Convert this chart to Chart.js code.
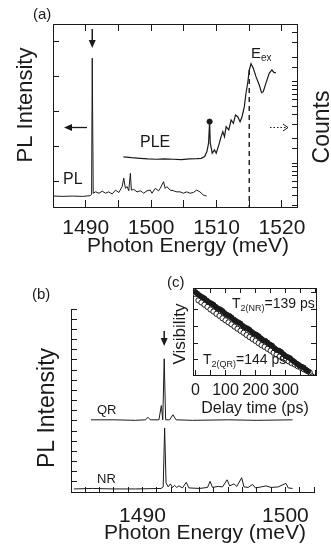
<!DOCTYPE html>
<html>
<head>
<meta charset="utf-8">
<script src="https://cdn.jsdelivr.net/npm/chart.js@4.4.0/dist/chart.umd.min.js"></script>
<style>
  html, body { margin: 0; padding: 0; background: #fff; }
  #wrap { position: relative; width: 331px; height: 547px; overflow: hidden; }
  canvas { position: absolute; }
</style>
</head>
<body>
<div id="wrap">
  <canvas id="chartA" width="331" height="265" style="left:0;top:0"></canvas>
  <canvas id="chartB" width="331" height="282" style="left:0;top:265px"></canvas>
  <canvas id="chartC" width="171" height="145" style="left:160px;top:275px"></canvas>
</div>
<script>
// (a) PL spectrum, left axis (arb. units)
const plEnergy = [1485.1, 1486.5, 1488, 1489.5, 1490.7, 1490.9, 1491.0, 1491.15, 1491.52, 1492.02,
  1492.53, 1493.04, 1493.5, 1494.05, 1494.56, 1495.06, 1495.57, 1495.82, 1496.07, 1496.33,
  1496.58, 1496.83, 1496.98, 1497.34, 1497.85, 1498.35, 1498.6, 1498.86, 1499.37, 1499.87,
  1500.13, 1500.63, 1501.14, 1501.39, 1501.9, 1502.15, 1502.41, 1502.91, 1503.42, 1503.93,
  1504.43, 1504.94, 1505.44, 1505.95, 1506.45, 1506.96, 1507.46, 1507.97, 1508.48];
const plIntensity = [-4.1, -4.2, -4.1, -4.2, -4.0, -3.6, 35.3, -3.3, -2.9, -3.3,
  -2.7, -3.3, -2.9, -3.5, -2.4, -3.1, -1.4, 1.0, -1.9, -1.4,
  -2.6, 2.4, -2.4, -2.2, -2.9, -2.6, -2.9, -3.3, -2.6, -2.4,
  -3.3, -1.9, -2.6, -1.9, 0.0, -1.9, -1.4, -2.4, -2.6, -2.9,
  -2.9, -3.3, -2.9, -3.3, -3.1, -2.4, -2.9, -3.8, -4.1];

// (a) PLE spectrum, right axis (counts, log)
const pleEnergy = [1495.77, 1497, 1498.31, 1499.5, 1500.84, 1502, 1503.37, 1504.6, 1505.9, 1507,
  1507.67, 1508.18, 1508.53, 1508.78, 1508.94, 1509.04, 1509.34, 1509.69, 1509.95, 1510.35,
  1510.7, 1510.96, 1511.21, 1511.47, 1511.87, 1512.23, 1512.58, 1512.89, 1513.24, 1513.6,
  1513.9, 1514.25, 1514.5, 1514.76, 1515.01, 1515.27, 1515.62, 1516.03, 1516.53, 1516.88,
  1517.14, 1517.54, 1518.05, 1518.46, 1518.81, 1519.07];
const pleCounts = [120, 117, 115, 113, 112, 113, 112, 111, 113, 114,
  115, 121, 139, 176, 324, 176, 133, 146, 133, 168,
  212, 244, 212, 281, 256, 339, 309, 391, 372, 323,
  372, 494, 721, 956, 1391, 1662, 1459, 1152, 911, 733,
  754, 955, 1267, 1391, 1289, 1289];
const countsRange = [29.1, 5094];
const exEnergy = [1515.0, 1515.0];
const exCounts = [1391, 29.1];
const dotEnergy = [1508.94];
const dotCounts = [324];
const energyLabelsA = [1490, 1500, 1510, 1520];

// (b) PL of QR and NR (arb. units)
const qrEnergy = [1486.4, 1488, 1489.5, 1490.2, 1490.39, 1490.55, 1491.15, 1491.32, 1491.42, 1491.52,
  1491.62, 1491.9, 1492.13, 1492.35, 1493.5, 1496, 1498, 1500.5];
const qrIntensity = [7.1, 7.1, 7.05, 7.1, 7.35, 7.1, 7.1, 8.5, 7.1, 13.1,
  7.1, 7.1, 7.6, 7.1, 7.05, 7.1, 7.05, 7.1];
const nrEnergy = [1485.2, 1486.5, 1488, 1489.5, 1491.3, 1491.45, 1491.55, 1491.65, 1491.8, 1491.95,
  1492.1, 1492.25, 1492.4, 1492.55, 1492.8, 1493.06, 1493.25, 1494, 1494.55, 1494.73,
  1494.9, 1495.3, 1495.6, 1495.92, 1496.1, 1496.4, 1496.6, 1496.94, 1497.1, 1497.4,
  1497.7, 1497.9, 1498.3, 1498.64, 1499, 1499.5, 1500.03, 1500.2, 1500.5];
const nrIntensity = [0.3, 0.35, 0.3, 0.3, 0.35, 0.5, 6.3, 0.9, 0.5, 0.8,
  0.45, 0.65, 0.45, 0.6, 0.4, 0.95, 0.4, 0.35, 0.45, 1.05,
  0.45, 0.55, 0.5, 1.2, 0.6, 0.8, 0.55, 1.4, 0.5, 0.45,
  0.75, 0.4, 0.5, 0.6, 0.45, 0.5, 0.85, 0.4, 0.35];
const energyLabelsB = [1490, 1500];

// (c) visibility vs delay time
const nrTime = [0, 8, 15, 23, 30, 38, 45, 53, 60, 68, 75, 83, 90, 98, 105, 113, 120, 128, 135, 143,
  150, 158, 165, 173, 180, 188, 195, 203, 210, 218, 225, 233, 240, 248, 255, 263, 270, 278, 285, 293,
  300, 308, 315, 323, 330, 338, 345, 353, 360, 368, 375];
const nrVisibility = [1.02, 0.9, 0.79, 0.72, 0.66, 0.57, 0.51, 0.47, 0.43, 0.37, 0.33, 0.31, 0.28, 0.24,
  0.215, 0.2, 0.18, 0.155, 0.14, 0.128, 0.118, 0.1, 0.091, 0.085, 0.077, 0.066, 0.059, 0.055, 0.05, 0.043,
  0.038, 0.036, 0.032, 0.028, 0.026, 0.022, 0.0195, 0.0185, 0.017, 0.0145, 0.0128, 0.0118, 0.011, 0.0095,
  0.0085, 0.0075, 0.0068, 0.0062, 0.0058, 0.005, 0.0045];
const qrTime = [0, 10, 20, 30, 40, 50, 60, 70, 80, 90, 100, 110, 120, 130, 140, 150, 160, 170, 180,
  190, 200, 210, 220, 230, 240, 250, 260, 270, 280, 290, 300, 310, 320, 330, 340, 350, 360, 370, 380];
const qrVisibility = [0.9, 0.58, 0.5, 0.43, 0.37, 0.31, 0.27, 0.23, 0.2, 0.17, 0.148, 0.128, 0.112, 0.096,
  0.083, 0.072, 0.063, 0.054, 0.047, 0.041, 0.036, 0.031, 0.027, 0.024, 0.021, 0.0185, 0.016, 0.0142,
  0.0125, 0.011, 0.0098, 0.0089, 0.0079, 0.0072, 0.0064, 0.0058, 0.0052, 0.0047, 0.0042];
const fitTime = [-8, 401];
const fitVisibility = [1.12, 0.0032];
const delayLabels = [0, 100, 200, 300];
const visTicks = [1, 0.3, 0.1, 0.03, 0.01];

const FONT = "'Liberation Sans', Arial, Helvetica, sans-serif";
const INK = '#1a1a1a';
Chart.defaults.font.family = FONT;
Chart.defaults.color = INK;

const pts = (xs, ys) => xs.map((x, i) => ({x: x, y: ys[i]}));
const fix = size => s => { if (s.isHorizontal()) s.height = size; else s.width = size; };

function axis(position, size, tick, extra) {
  return Object.assign({
    position: position,
    afterFit: fix(size),
    grid: {drawOnChartArea: false, color: INK, tickLength: tick, tickWidth: 1},
    border: {display: true, color: INK, width: 1},
    ticks: {display: false}
  }, extra);
}

function line(data, extra) {
  return Object.assign({data: data, borderColor: INK, borderWidth: 1, pointRadius: 0, tension: 0, fill: false}, extra);
}

function text(c, s, x, y, size, align, rot) {
  c.save();
  c.font = size + 'px ' + FONT;
  c.textAlign = align || 'left';
  c.textBaseline = 'middle';
  c.translate(x, y);
  if (rot) c.rotate(rot);
  c.fillText(s, 0, 0);
  c.restore();
}

// text like T_2(NR)=139 ps
function subText(c, main, sub, rest, x, y, size) {
  c.save();
  c.textBaseline = 'middle';
  c.font = size + 'px ' + FONT;
  c.fillText(main, x, y);
  x += c.measureText(main).width;
  c.font = Math.round(size * 0.65) + 'px ' + FONT;
  c.fillText(sub, x, y + size * 0.3);
  x += c.measureText(sub).width;
  c.font = size + 'px ' + FONT;
  if (rest) c.fillText(rest, x, y);
  c.restore();
}

function arrowDown(c, x, y1, y2) {
  c.beginPath(); c.lineWidth = 1.5; c.moveTo(x, y1); c.lineTo(x, y2 - 6); c.stroke();
  c.beginPath(); c.moveTo(x - 3.5, y2 - 8); c.lineTo(x + 3.5, y2 - 8); c.lineTo(x, y2); c.closePath(); c.fill();
}

function notes(draw) {
  return {id: 'notes', afterDraw(chart) {
    const c = chart.ctx;
    c.save(); c.fillStyle = INK; c.strokeStyle = INK;
    draw(c, chart);
    c.restore();
  }};
}

const common = {
  responsive: false, animation: false,
  plugins: {legend: {display: false}, tooltip: {enabled: false}}
};

// ---------- (a) ----------
const peakA = plEnergy[plIntensity.indexOf(Math.max(...plIntensity))];
new Chart(document.getElementById('chartA'), {
  type: 'line',
  data: {datasets: [
    line(pts(plEnergy, plIntensity), {xAxisID: 'x', yAxisID: 'y'}),
    line(pts(pleEnergy, pleCounts), {xAxisID: 'x', yAxisID: 'y2', borderWidth: 1.2}),
    line(pts(exEnergy, exCounts), {xAxisID: 'x', yAxisID: 'y2', borderDash: [5, 4], borderWidth: 1.4}),
    line(pts(dotEnergy, dotCounts), {xAxisID: 'x', yAxisID: 'y2', showLine: false, pointRadius: 2.6,
      pointBackgroundColor: INK, pointBorderColor: INK})
  ]},
  options: Object.assign({}, common, {
    scales: {
      x: axis('bottom', 58, -7, {type: 'linear', min: 1485, max: 1522.3,
        ticks: {stepSize: 5, includeBounds: false, maxRotation: 0, autoSkip: false, padding: 16,
          font: {size: 21}, callback: v => energyLabelsA.includes(v) ? String(v) : ''}}),
      x2: axis('top', 24, -7, {type: 'linear', min: 1485, max: 1522.3,
        ticks: {display: false, stepSize: 5, includeBounds: false}}),
      y: axis('left', 53, -6, {type: 'linear', min: -7.23, max: 45.06,
        ticks: {display: false, stepSize: 10}}),
      y2: axis('right', 34, -5, {type: 'logarithmic', min: countsRange[0], max: countsRange[1]})
    }
  }),
  plugins: [notes((c, chart) => {
    text(c, '(a)', 33, 15, 15);
    text(c, 'PL Intensity', 26, 105, 22, 'center', -Math.PI / 2);
    text(c, 'Counts', 323, 127, 23, 'center', -Math.PI / 2);
    text(c, 'Photon Energy (meV)', 188, 246, 21, 'center');
    text(c, 'PL', 63, 180, 16);
    text(c, 'PLE', 140, 143, 16);
    subText(c, 'E', 'ex', '', 251, 54, 15);
    arrowDown(c, chart.scales.x.getPixelForValue(peakA), 29, 48);
    // left arrow (PL axis)
    c.lineWidth = 1.3;
    c.beginPath(); c.moveTo(87, 127.5); c.lineTo(70, 127.5); c.stroke();
    c.beginPath(); c.moveTo(64, 127.5); c.lineTo(72, 124); c.lineTo(72, 131); c.closePath(); c.fill();
    // dotted right arrow (Counts axis)
    c.lineWidth = 1;
    c.setLineDash([1.5, 2]);
    c.beginPath(); c.moveTo(270, 127.5); c.lineTo(287, 127.5); c.stroke();
    c.setLineDash([]);
    c.beginPath(); c.moveTo(283, 124); c.lineTo(288, 127.5); c.lineTo(283, 131); c.stroke();
  })]
});

// ---------- (b) ----------
const peakB = qrEnergy[qrIntensity.indexOf(Math.max(...qrIntensity))];
new Chart(document.getElementById('chartB'), {
  type: 'line',
  data: {datasets: [
    line(pts(qrEnergy, qrIntensity)),
    line(pts(nrEnergy, nrIntensity))
  ]},
  options: Object.assign({}, common, {
    layout: {padding: {top: 44, right: 16}},
    scales: {
      x: axis('bottom', 55, -5, {type: 'linear', min: 1485, max: 1502,
        ticks: {stepSize: 1, includeBounds: false, maxRotation: 0, autoSkip: false, padding: 17,
          font: {size: 21}, callback: v => energyLabelsB.includes(v) ? String(v) : ''}}),
      y: axis('left', 71, -6, {type: 'linear', min: 0, max: 18, ticks: {display: false, stepSize: 1}})
    }
  }),
  plugins: [notes((c, chart) => {
    text(c, '(b)', 32, 30, 15);
    text(c, 'PL Intensity', 48, 143, 23, 'center', -Math.PI / 2);
    text(c, 'Photon Energy (meV)', 205, 268, 21, 'center');
    text(c, 'QR', 97, 145, 13);
    text(c, 'NR', 97, 214, 13);
    arrowDown(c, chart.scales.x.getPixelForValue(peakB), 66, 81);
  })]
});

// ---------- (c) ----------
const visAxis = (pos, size) => axis(pos, size, -5, {type: 'logarithmic', min: 0.0035, max: 1.35,
  afterBuildTicks: s => { s.ticks = visTicks.map(v => ({value: v})); }});
new Chart(document.getElementById('chartC'), {
  type: 'line',
  data: {datasets: [
    line(pts(nrTime, nrVisibility), {showLine: false, pointRadius: 2.5, pointBackgroundColor: INK,
      pointBorderColor: INK}),
    line(pts(qrTime, qrVisibility), {showLine: false, pointRadius: 2.6, pointBackgroundColor: '#fff',
      pointBorderColor: INK, pointBorderWidth: 1}),
    line(pts(fitTime, fitVisibility), {borderWidth: 1.2})
  ]},
  options: Object.assign({}, common, {
    scales: {
      x: axis('bottom', 45, -5, {type: 'linear', min: -8, max: 401,
        ticks: {stepSize: 50, includeBounds: false, maxRotation: 0, autoSkip: false, padding: 11,
          font: {size: 16}, callback: v => delayLabels.includes(v) ? String(v) : ''}}),
      x2: axis('top', 13, -5, {type: 'linear', min: -8, max: 401,
        ticks: {display: false, stepSize: 50, includeBounds: false}}),
      y: visAxis('left', 33),
      y2: visAxis('right', 15)
    }
  }),
  plugins: [notes((c) => {
    text(c, '(c)', 7, 8, 15);
    text(c, 'Visibility', 20, 59, 17, 'center', -Math.PI / 2);
    text(c, 'Delay time (ps)', 95, 134, 16, 'center');
    subText(c, 'T', '2(NR)', '=139 ps', 72, 29, 14);
    subText(c, 'T', '2(QR)', '=144 ps', 43, 85, 14);
  })]
});
</script>
</body>
</html>
